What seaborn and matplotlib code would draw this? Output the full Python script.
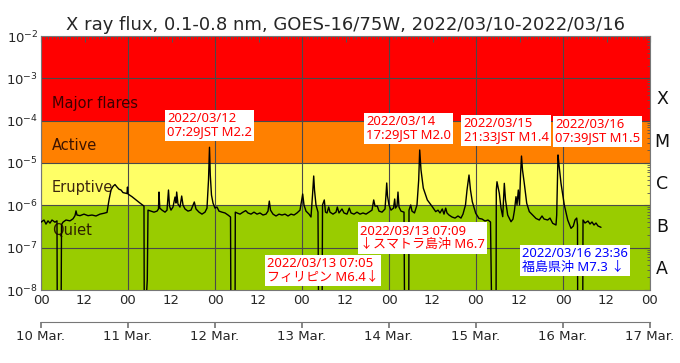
import numpy as np
import pandas as pd
import matplotlib
matplotlib.use('Agg')
import matplotlib.pyplot as plt
import matplotlib.transforms as mtransforms
from matplotlib.ticker import MultipleLocator, LogLocator, NullFormatter
import seaborn as sns

sns.set_theme(style='white')
plt.rcParams['font.family'] = ['DejaVu Sans']
plt.rcParams['axes.unicode_minus'] = True

# ---------------- data ----------------
# hours since 2022-03-10 00:00 UT
hours = [
    0.0, 0.83, 1.38, 1.93, 2.48, 3.03, 3.86, 4.41, 4.50, 5.52, 5.66, 6.07, 6.90, 8.00, 8.83, 9.38, 9.66, 9.93,
    10.76, 11.86, 12.97, 14.07, 15.17, 16.28, 17.38, 18.21, 18.76, 19.31, 19.86, 20.41, 20.97, 21.52, 22.07,
    22.62, 23.17, 23.72, 23.86, 24.0, 25.10, 26.21, 27.31, 28.14, 28.41, 28.5, 29.32, 29.52,
    30.34, 31.17, 32.0, 32.41, 32.55, 32.77, 33.38, 34.21, 34.76, 35.17, 35.45, 35.86, 36.41, 36.97, 37.24,
    37.43, 37.79, 38.34, 38.81, 39.17, 39.72, 40.55, 41.38, 42.29, 42.76, 43.59, 44.41, 45.24, 45.79, 46.21,
    46.48, 46.70, 47.03, 47.45, 48.0, 48.55, 49.10, 49.93, 50.76, 51.59, 52.28, 52.41, 53.52, 53.60,
    54.07, 54.90, 55.72, 56.47, 57.10, 57.93, 58.76, 59.59, 60.41, 61.24, 62.07, 62.62, 62.98, 63.31,
    64.0, 64.83, 65.66, 66.48, 67.31, 68.14, 68.97, 69.79, 70.62, 71.45, 72.19, 72.55, 73.10, 73.93,
    74.48, 74.90, 75.23, 75.45, 75.86, 76.41, 76.61, 77.52, 77.66, 78.15, 78.48, 78.90, 79.37, 79.72,
    80.55, 81.38, 81.74, 82.21, 83.03, 83.59, 84.41, 85.05, 85.52, 86.34, 87.17, 88.0, 88.83, 89.66,
    90.48, 91.31, 91.78, 92.14, 92.77, 93.24, 94.07, 94.90, 95.17, 95.37, 95.59, 96.0, 96.55, 97.24,
    97.57, 97.79, 98.21, 98.48, 98.76, 99.31, 100.14, 100.33, 101.43, 101.52, 101.99, 102.34, 103.03,
    103.72, 104.19, 104.47, 104.83, 105.46, 106.57, 107.94, 108.88, 109.52, 110.07, 110.70, 111.17,
    111.64, 112.0, 112.55, 113.38, 114.21, 115.03, 115.86, 116.41, 117.10, 117.52, 118.07, 118.48,
    118.98, 119.92, 120.83, 121.66, 122.48, 123.31, 124.0, 124.41, 125.52, 125.60, 125.79, 126.43,
    126.90, 127.37, 127.59, 127.81, 128.14, 128.74, 129.66, 130.21, 130.62, 131.03, 131.31, 131.67,
    132.0, 132.28, 132.55, 132.83, 133.32, 133.99, 134.70, 135.64, 136.55, 137.46, 138.21, 138.76,
    139.78, 140.41, 141.16, 142.07, 142.26, 142.43, 142.62, 142.90, 143.45, 144.36, 145.30, 146.21,
    146.85, 147.31, 147.78, 148.0, 148.06, 149.43, 149.52, 150.07, 150.90, 151.45, 152.0, 152.55,
    153.10, 153.66, 154.48,
]
flux = [
    4.0e-7, 4.5e-7, 3.6e-7, 4.3e-7, 3.8e-7, 4.5e-7, 4.0e-7, 4.3e-7, 1e-9, 1e-9, 3.5e-7, 4.0e-7, 4.5e-7, 4.3e-7, 4.8e-7, 5.7e-7, 7.4e-7, 5.9e-7,
    5.7e-7, 6.2e-7, 5.7e-7, 5.9e-7, 5.6e-7, 6.2e-7, 6.5e-7, 6.8e-7, 1.34e-6, 2.3e-6, 2.8e-6, 3.1e-6, 2.7e-6, 2.4e-6, 2.3e-6,
    2.0e-6, 1.95e-6, 1.9e-6, 2.7e-6, 1.85e-6, 1.6e-6, 1.34e-6, 1.13e-6, 1.0e-6, 9.6e-7, 1e-9, 1.72e-8, 7.7e-7,
    7.3e-7, 6.9e-7, 7.3e-7, 8.2e-7, 2.06e-6, 8.6e-7, 7.7e-7, 6.9e-7, 7.7e-7, 2.3e-6, 9.6e-7, 7.7e-7, 9.1e-7, 1.57e-6, 1.13e-6,
    2.06e-6, 1.07e-6, 9.1e-7, 1.66e-6, 1.02e-6, 8.2e-7, 7.3e-7, 7.7e-7, 1.2e-6, 8.2e-7, 6.9e-7, 6.2e-7, 6.9e-7, 8.6e-7, 3.96e-6,
    2.35e-5, 5.2e-6, 1.75e-6, 1.13e-6, 8.6e-7, 9.1e-7, 7.3e-7, 6.9e-7, 6.6e-7, 5.9e-7, 5.3e-7, 1e-9, 1e-9, 6.9e-7,
    6.6e-7, 6.2e-7, 6.9e-7, 7.5e-7, 6.6e-7, 6.2e-7, 6.9e-7, 6.2e-7, 6.6e-7, 5.9e-7, 6.2e-7, 7.3e-7, 1.26e-6, 7.7e-7,
    6.2e-7, 5.6e-7, 6.2e-7, 5.9e-7, 6.2e-7, 5.6e-7, 6.2e-7, 5.9e-7, 6.6e-7, 7.7e-7, 1.85e-6, 1.02e-6, 7.3e-7, 6.2e-7,
    5.3e-7, 1.75e-6, 4.93e-6, 2.3e-6, 1.02e-6, 6.9e-7, 1e-9, 1e-9, 1.02e-6, 1.34e-6, 6.9e-7, 6.6e-7, 9.1e-7, 6.9e-7,
    6.2e-7, 6.9e-7, 9.1e-7, 6.6e-7, 8.2e-7, 6.6e-7, 6.2e-7, 8.6e-7, 6.6e-7, 6.2e-7, 6.9e-7, 6.2e-7, 6.6e-7, 6.2e-7,
    6.9e-7, 7.7e-7, 1.34e-6, 9.6e-7, 9.6e-7, 7.3e-7, 6.9e-7, 8.2e-7, 1.75e-6, 3.37e-6, 1.66e-6, 1.02e-6, 7.7e-7, 8.6e-7,
    1.41e-6, 8.6e-7, 9.6e-7, 2.06e-6, 9.1e-7, 7.3e-7, 6.9e-7, 1e-9, 1e-9, 7.7e-7, 1.02e-6, 7.3e-7, 6.6e-7,
    1.02e-6, 3.96e-6, 2.03e-5, 6.83e-6, 2.56e-6, 1.34e-6, 9.3e-7, 7.1e-7, 7.7e-7, 6.6e-7, 8.2e-7, 6.2e-7,
    8.6e-7, 6.6e-7, 5.9e-7, 5.3e-7, 5.0e-7, 5.6e-7, 5.0e-7, 6.2e-7, 1.02e-6, 2.3e-6, 5.2e-6, 2.3e-6,
    1.22e-6, 6.5e-7, 4.9e-7, 4.75e-7, 4.26e-7, 4.5e-7, 4.04e-7, 1e-9, 1e-9, 2.3e-6, 3.61e-6, 1.92e-6,
    8.6e-7, 5.4e-7, 1.34e-6, 3.31e-6, 1.34e-6, 5.9e-7, 4.1e-7, 4.75e-7, 7.7e-7, 1.6e-6, 1.02e-6, 2.3e-6,
    1.02e-6, 5.2e-6, 1.46e-5, 6.83e-6, 3.31e-6, 1.12e-6, 7.1e-7, 5.9e-7, 4.9e-7, 4.5e-7, 5.6e-7, 4.75e-7,
    4.5e-7, 5.0e-7, 3.76e-7, 3.43e-7, 5.9e-7, 3.02e-6, 1.55e-5, 8.97e-6, 3.31e-6, 1.02e-6, 4.5e-7, 2.86e-7,
    3.25e-7, 4.5e-7, 5.0e-7, 3.43e-7, 1e-9, 1e-9, 4.5e-7, 3.82e-7, 4.26e-7, 3.62e-7, 4.04e-7, 3.43e-7,
    3.82e-7, 3.25e-7, 3.03e-7,
]

band_edges = [1e-8, 1e-6, 1e-5, 1e-4, 1e-2]
band_colors = ['#99CC00', '#FFFF66', '#FF8000', '#FF0000']
band_names = ['Quiet', 'Eruptive', 'Active', 'Major flares']
band_label_y = [2.6e-7, 2.7e-6, 2.6e-5, 2.6e-4]

class_names = ['A', 'B', 'C', 'M', 'X']
class_centers = [10**-7.5, 10**-6.5, 10**-5.5, 10**-4.5, 10**-3.5]

hour_ticks = list(range(0, 169, 12))
hour_labels = ['00' if h % 24 == 0 else '12' for h in hour_ticks]
day_ticks = list(range(0, 169, 24))
day_labels = ['10 Mar.', '11 Mar.', '12 Mar.', '13 Mar.', '14 Mar.', '15 Mar.', '16 Mar.', '17 Mar.']

title = 'X ray flux, 0.1-0.8 nm, GOES-16/75W, 2022/03/10-2022/03/16'

ann_texts = [
    '2022/03/12\n07:29JST M2.2',
    '2022/03/14\n17:29JST M2.0',
    '2022/03/15\n21:33JST M1.4',
    '2022/03/16\n07:39JST M1.5',
    '2022/03/13 07:05\nフィリピン M6.4↓',
    '2022/03/13 07:09\n↓スマトラ島沖 M6.7',
    '2022/03/16 23:36\n福島県沖 M7.3 ↓',
]
ann_colors = ['#FF0000'] * 6 + ['#0000FF']
# text anchor positions (axes fraction, left/top)
ann_pos = [(0.2069, 0.7008), (0.5337, 0.6890), (0.6941, 0.6811), (0.8440, 0.6772),
           (0.3711, 0.1299), (0.5238, 0.2571), (0.7898, 0.1693)]

df = pd.DataFrame({'hours': hours, 'flux': flux})

# ---------------- figure ----------------
fig = plt.figure(figsize=(6.8, 3.63), dpi=100)
ax = fig.add_axes([41 / 680, 1 - 290 / 363, 609 / 680, 254 / 363])

for lo, hi, c in zip(band_edges[:-1], band_edges[1:], band_colors):
    ax.axhspan(lo, hi, color=c, lw=0, zorder=0)

for d in day_ticks:
    ax.axvline(d, color='#4a4a4a', lw=0.8, zorder=1)
for e in [1e-7, 1e-6, 1e-5, 1e-4, 1e-3]:
    ax.axhline(e, color='#4a4a4a', lw=0.8, zorder=1)

sns.lineplot(data=df, x='hours', y='flux', ax=ax, color='black', lw=1.0,
             estimator=None, sort=False, zorder=3)

ax.set_yscale('log')
ax.set_ylim(1e-8, 1e-2)
ax.set_xlim(0, 168)
ax.set_xlabel('')
ax.set_ylabel('')
ax.grid(False)

ax.set_xticks(hour_ticks)
ax.set_xticklabels(hour_labels)
ax.xaxis.set_minor_locator(MultipleLocator(1))
ax.yaxis.set_major_locator(LogLocator(base=10, numticks=10))
ax.yaxis.set_minor_locator(LogLocator(base=10, subs=np.arange(2, 10), numticks=20))
ax.yaxis.set_minor_formatter(NullFormatter())
ax.tick_params(which='both', direction='in', top=True, right=True, color='#555555', labelsize=9.5)
ax.tick_params(which='major', length=4, width=0.8, pad=3)
ax.tick_params(which='minor', length=2, width=0.6)
ax.tick_params(axis='y', pad=2)
for s in ax.spines.values():
    s.set_color('#777777')
    s.set_linewidth(0.8)
    s.set_visible(True)

ax.set_title(title, fontsize=13.0, pad=4)

# band names
trans = mtransforms.blended_transform_factory(ax.transAxes, ax.transData)
for name, yv in zip(band_names, band_label_y):
    ax.text(0.018, yv, name, transform=trans,
            ha='left', va='center', fontsize=10.5, color='#1a0000', alpha=0.85, zorder=4)

# class letters on the right
for cn, yc in zip(class_names, class_centers):
    ax.text(1.0197, yc, cn, transform=trans, ha='center', va='center', fontsize=12.5, color='#111111')

# secondary day axis
secax = ax.secondary_xaxis(-0.126)
secax.set_xticks(day_ticks)
secax.set_xticklabels(day_labels)
secax.tick_params(direction='out', length=4, color='#777777', labelsize=9.5, pad=2)
for s in secax.spines.values():
    s.set_color('#777777')
    s.set_linewidth(0.8)

# annotation boxes
for txt, c, (px, py) in zip(ann_texts, ann_colors, ann_pos):
    ax.text(px, py, txt, transform=ax.transAxes, ha='left', va='top', color=c,
            fontsize=9.4, family=['Noto Sans', 'Noto Sans CJK JP', 'DejaVu Sans'], linespacing=1.05,
            bbox=dict(boxstyle='square,pad=0.18', fc='white', ec='none'), zorder=6)

fig.savefig('out.png', dpi=100)
